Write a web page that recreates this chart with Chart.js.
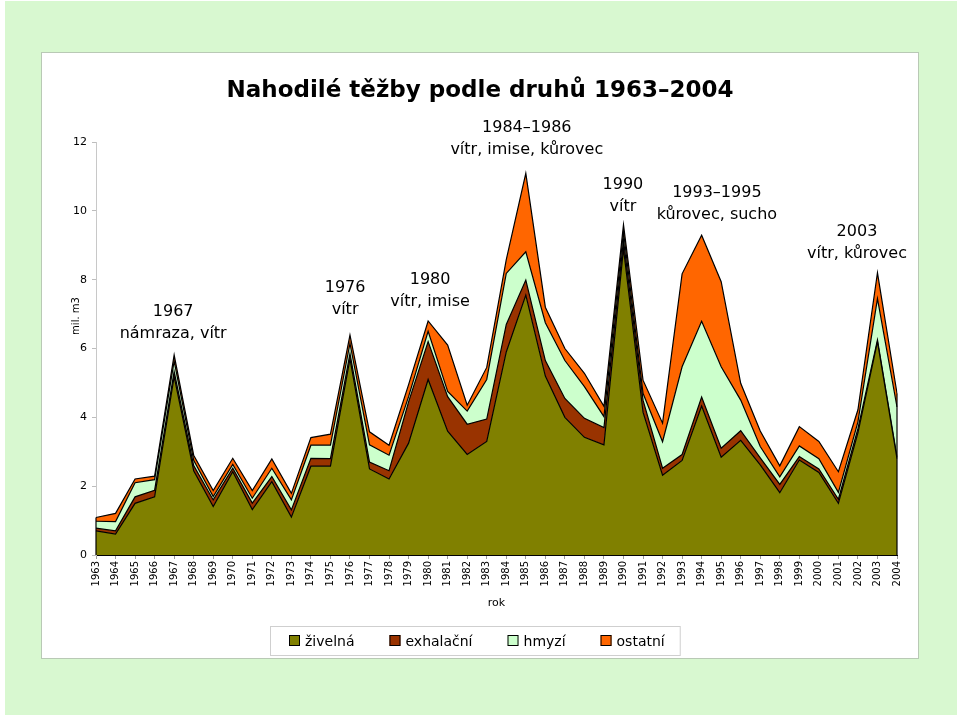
<!DOCTYPE html>
<html>
<head>
<meta charset="utf-8">
<script src="https://cdn.jsdelivr.net/npm/chart.js@4.4.0/dist/chart.umd.min.js"></script>
<style>
  html, body { margin: 0; padding: 0; background: #fff; }
  #bg { position: absolute; left: 5px; top: 1px; width: 952px; height: 714px; background: #d8f8d0; }
  #box { position: absolute; left: 42px; top: 53px; width: 876px; height: 605px; background: #fff; box-shadow: 0 0 0 1px #b9c9b5; }
  #chart { position: absolute; left: 42px; top: 53px; }
</style>
</head>
<body>
<div id="bg"></div>
<div id="box"></div>
<canvas id="chart" width="876" height="605"></canvas>
<script>
// years on the x axis
const years = ['1963', '1964', '1965', '1966', '1967', '1968', '1969', '1970', '1971', '1972',
    '1973', '1974', '1975', '1976', '1977', '1978', '1979', '1980', '1981', '1982',
    '1983', '1984', '1985', '1986', '1987', '1988', '1989', '1990', '1991', '1992',
    '1993', '1994', '1995', '1996', '1997', '1998', '1999', '2000', '2001', '2002',
    '2003', '2004'];

// mil. m3
const zivelna = [0.70, 0.61, 1.50, 1.69, 5.18, 2.45, 1.41, 2.42, 1.32, 2.13,
    1.10, 2.58, 2.58, 5.70, 2.50, 2.21, 3.25, 5.10, 3.60, 2.92,
    3.30, 5.90, 7.55, 5.20, 4.00, 3.42, 3.20, 8.90, 4.15, 2.32,
    2.75, 4.33, 2.84, 3.33, 2.62, 1.81, 2.76, 2.40, 1.50, 3.55,
    6.20, 2.80];
const exhalacni = [0.08, 0.09, 0.19, 0.19, 0.15, 0.15, 0.19, 0.10, 0.19, 0.15,
    0.21, 0.23, 0.22, 0.15, 0.20, 0.24, 1.20, 1.10, 1.00, 0.88,
    0.65, 0.80, 0.44, 0.45, 0.55, 0.55, 0.50, 0.25, 0.35, 0.20,
    0.17, 0.26, 0.26, 0.28, 0.20, 0.24, 0.10, 0.10, 0.12, 0.12,
    0.05, 0.05];
const hmyzi = [0.20, 0.27, 0.41, 0.31, 0.30, 0.15, 0.10, 0.11, 0.14, 0.24,
    0.29, 0.38, 0.39, 0.30, 0.50, 0.45, 0.15, 0.30, 0.15, 0.38,
    1.15, 1.48, 0.82, 1.10, 1.10, 0.92, 0.32, 0.25, 0.20, 0.77,
    2.55, 2.20, 2.37, 0.89, 0.33, 0.22, 0.31, 0.30, 0.20, 0.20,
    1.20, 1.45];
const ostatni = [0.11, 0.24, 0.11, 0.10, 0.18, 0.15, 0.17, 0.18, 0.22, 0.27,
    0.19, 0.22, 0.32, 0.24, 0.38, 0.29, 0.35, 0.30, 1.35, 0.17,
    0.35, 0.40, 2.28, 0.45, 0.35, 0.39, 0.30, 0.20, 0.38, 0.54,
    2.70, 2.50, 2.47, 0.49, 0.45, 0.32, 0.56, 0.50, 0.60, 0.35,
    0.75, 0.40];

const yTicks = [0, 2, 4, 6, 8, 10, 12];

// text notes over the peaks
const notes = [
    { at: 1966.95, value: 7.07, lines: ['1967', 'námraza, vítr'] },
    { at: 1975.75, value: 7.76, lines: ['1976', 'vítr'] },
    { at: 1980.1, value: 7.99, lines: ['1980', 'vítr, imise'] },
    { at: 1985.05, value: 12.41, lines: ['1984–1986', 'vítr, imise, kůrovec'] },
    { at: 1989.97, value: 10.75, lines: ['1990', 'vítr'] },
    { at: 1994.78, value: 10.53, lines: ['1993–1995', 'kůrovec, sucho'] },
    { at: 2001.95, value: 9.38, lines: ['2003', 'vítr, kůrovec'] }
];

const FONT = '"DejaVu Sans", Verdana, sans-serif';

const decorations = {
    id: 'decorations',
    afterDatasetsDraw(chart) {
        const { ctx, scales: { x, y } } = chart;
        // close the stacked area at both ends
        const last = years.length - 1;
        const total = i => zivelna[i] + exhalacni[i] + hmyzi[i] + ostatni[i];
        ctx.save();
        ctx.strokeStyle = '#000';
        ctx.lineWidth = 1.2;
        [0, last].forEach(i => {
            const px = x.getPixelForValue(i);
            ctx.beginPath();
            ctx.moveTo(px, y.getPixelForValue(0));
            ctx.lineTo(px, y.getPixelForValue(total(i)));
            ctx.stroke();
        });
        ctx.restore();
    },
    afterDraw(chart) {
        const { ctx, scales: { x, y } } = chart;
        ctx.save();
        ctx.fillStyle = '#000';

        // title
        ctx.font = 'bold 23px ' + FONT;
        ctx.textAlign = 'center';
        ctx.textBaseline = 'alphabetic';
        ctx.fillText('Nahodilé těžby podle druhů 1963–2004', 438, 44);

        // y axis title
        ctx.save();
        ctx.translate(34, 263);
        ctx.rotate(-Math.PI / 2);
        ctx.font = '10px ' + FONT;
        ctx.textBaseline = 'middle';
        ctx.fillText('mil. m3', 0, 0);
        ctx.restore();

        // notes
        const x0 = x.getPixelForValue(0);
        const step = (x.getPixelForValue(years.length - 1) - x0) / (years.length - 1);
        ctx.font = '16px ' + FONT;
        ctx.textBaseline = 'middle';
        notes.forEach(n => {
            const px = x0 + (n.at - 1963) * step;
            const py = y.getPixelForValue(n.value);
            n.lines.forEach((t, k) => ctx.fillText(t, px, py + k * 22));
        });

        // legend
        ctx.font = '14px ' + FONT;
        ctx.textAlign = 'left';
        ctx.textBaseline = 'alphabetic';
        let lx = 247;
        const items = chart.data.datasets.map(ds => {
            const item = { x: lx, ds: ds, w: ctx.measureText(ds.label).width };
            lx += 16 + item.w + 35;
            return item;
        });
        const right = lx - 35 + 15;
        ctx.fillStyle = '#fff';
        ctx.fillRect(228, 573, right - 228, 29);
        ctx.strokeStyle = '#cfcfcf';
        ctx.lineWidth = 1;
        ctx.strokeRect(228.5, 573.5, right - 228, 29);
        items.forEach(it => {
            ctx.fillStyle = it.ds.backgroundColor;
            ctx.fillRect(it.x, 582, 11, 11);
            ctx.strokeStyle = '#000';
            ctx.strokeRect(it.x + 0.5, 582.5, 10, 10);
            ctx.fillStyle = '#000';
            ctx.fillText(it.ds.label, it.x + 16, 593);
        });
        ctx.restore();
    }
};

const series = [
    { label: 'živelná', data: zivelna, color: '#808000' },
    { label: 'exhalační', data: exhalacni, color: '#993300' },
    { label: 'hmyzí', data: hmyzi, color: '#ccffcc' },
    { label: 'ostatní', data: ostatni, color: '#ff6600' }
];

const ctx = document.getElementById('chart').getContext('2d');
const chart = new Chart(ctx, {
    type: 'line',
    data: {
        labels: years,
        datasets: series.map((s, i) => ({
            label: s.label,
            data: s.data,
            backgroundColor: s.color,
            borderColor: '#000',
            borderWidth: 1.2,
            pointRadius: 0,
            tension: 0,
            fill: i === 0 ? 'origin' : '-1'
        }))
    },
    options: {
        responsive: false,
        animation: false,
        layout: { padding: { left: 14, right: 21, top: 89, bottom: 43 } },
        plugins: {
            legend: { display: false },
            tooltip: { enabled: false },
            title: { display: false }
        },
        scales: {
            x: {
                stacked: true,
                offset: false,
                grid: { drawOnChartArea: false, drawTicks: true, tickLength: 4, color: '#9a9a9a' },
                border: { color: '#000', width: 1 },
                ticks: {
                    minRotation: 90, maxRotation: 90, autoSkip: false, padding: 2,
                    color: '#000', font: { family: FONT, size: 10 }
                },
                title: {
                    display: true, text: 'rok', color: '#000',
                    font: { family: FONT, size: 11 }, padding: { top: 0, bottom: 5 }
                },
                afterFit(scale) { scale.height = 60; }
            },
            y: {
                stacked: true,
                min: 0,
                max: 12,
                afterBuildTicks(scale) { scale.ticks = yTicks.map(v => ({ value: v })); },
                grid: { drawOnChartArea: false, drawTicks: true, tickLength: 4, color: '#bdbdbd' },
                border: { color: '#c8c8c8', width: 1 },
                ticks: { padding: 5, color: '#000', font: { family: FONT, size: 11 } },
                afterFit(scale) { scale.width = 40; }
            }
        }
    },
    plugins: [decorations]
});
</script>
</body>
</html>
